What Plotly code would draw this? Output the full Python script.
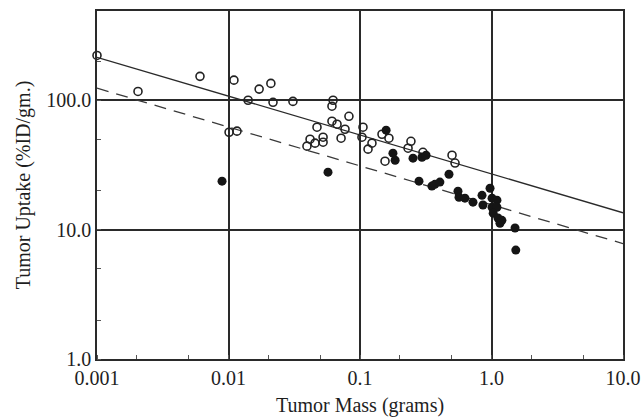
import plotly.graph_objects as go

# Open circles: tumor mass (g) and uptake (%ID/g)
open_mass = [0.001, 0.00205, 0.00607, 0.0110, 0.0101, 0.0116, 0.0141, 0.0171, 0.0210,
             0.0218, 0.0309, 0.0624, 0.0612, 0.0824, 0.0612, 0.0669, 0.0769, 0.0471,
             0.0524, 0.0524, 0.0718, 0.0417, 0.0455, 0.0395, 0.1054, 0.1035, 0.1233,
             0.1151, 0.147, 0.166, 0.155, 0.244, 0.232, 0.301, 0.501, 0.528]
open_uptake = [222, 117, 153, 143, 56.6, 57.7, 100, 122, 135,
               96.5, 98, 100, 90, 75.2, 68.9, 65.3, 59.7, 61.9,
               51.8, 47.4, 50.9, 50.0, 46.6, 44.2, 61.9, 51.8, 46.6,
               41.9, 54.6, 50.9, 33.8, 48.2, 42.6, 39.6, 37.6, 32.7]

# Filled circles
filled_mass = [0.00893, 0.0571, 0.158, 0.178, 0.185, 0.253, 0.296, 0.318, 0.475, 0.281,
               0.352, 0.371, 0.405, 0.556, 0.566, 0.628, 0.723, 0.847, 0.861, 0.975,
               1.01, 1.10, 1.01, 1.10, 1.03, 1.12, 1.16, 1.20, 1.51, 1.53]
filled_uptake = [23.7, 27.8, 58.7, 39.0, 34.4, 35.7, 36.3, 37.6, 26.8, 23.7,
                 21.7, 22.4, 23.3, 19.8, 17.8, 17.5, 16.3, 18.4, 15.5, 20.9,
                 17.5, 16.9, 14.9, 14.9, 13.4, 12.3, 11.2, 11.8, 10.3, 6.95]

# Regression lines (end points)
fit_mass = [0.001, 10.0]
fit_solid = [215, 13.5]
fit_dashed = [124, 7.8]

x_ticks = [0.001, 0.01, 0.1, 1.0, 10.0]
x_labels = ["0.001", "0.01", "0.1", "1.0", "10.0"]
y_ticks = [1.0, 10.0, 100.0]
y_labels = ["1.0", "10.0", "100.0"]

SERIF = "Liberation Serif, Times New Roman, serif"
INK = "#1e1e1e"

fig = go.Figure()
fig.add_trace(go.Scatter(x=fit_mass, y=fit_solid, mode="lines",
                         line=dict(color="#2a2a2a", width=1.3), hoverinfo="skip"))
fig.add_trace(go.Scatter(x=fit_mass, y=fit_dashed, mode="lines",
                         line=dict(color="#3a3a3a", width=1.3, dash="12px,8px"),
                         hoverinfo="skip"))
fig.add_trace(go.Scatter(x=open_mass, y=open_uptake, mode="markers", cliponaxis=False,
                         marker=dict(symbol="circle-open", size=8, color="#222",
                                     line=dict(width=1.6))))
fig.add_trace(go.Scatter(x=filled_mass, y=filled_uptake, mode="markers", cliponaxis=False,
                         marker=dict(symbol="circle", size=9, color="#151515",
                                     line=dict(width=0))))

axis_common = dict(
    type="log", showline=True, mirror=True, linecolor="#2a2a2a", linewidth=1.5,
    showgrid=True, gridcolor="#2a2a2a", gridwidth=1.5, ticks="", zeroline=False,
    tickfont=dict(family=SERIF, size=20, color=INK),
    minor=dict(ticks="inside", dtick="D2", ticklen=4, tickcolor="#555",
               tickwidth=1, showgrid=False),
)

fig.update_xaxes(range=[-3, 1], tickvals=x_ticks, ticktext=x_labels,
                 title=dict(text="Tumor Mass (grams)", standoff=12,
                            font=dict(family=SERIF, size=20, color=INK)),
                 **axis_common)
fig.update_yaxes(range=[0, 2.69], tickvals=y_ticks, ticktext=y_labels,
                 title=dict(text="Tumor Uptake (%ID/gm.)", standoff=10,
                            font=dict(family=SERIF, size=20, color=INK)),
                 **axis_common)

fig.update_layout(
    width=642, height=417, showlegend=False,
    margin=dict(l=97, r=19, t=11, b=58, autoexpand=False),
    paper_bgcolor="white", plot_bgcolor="white",
)

fig.write_html("out.html")
